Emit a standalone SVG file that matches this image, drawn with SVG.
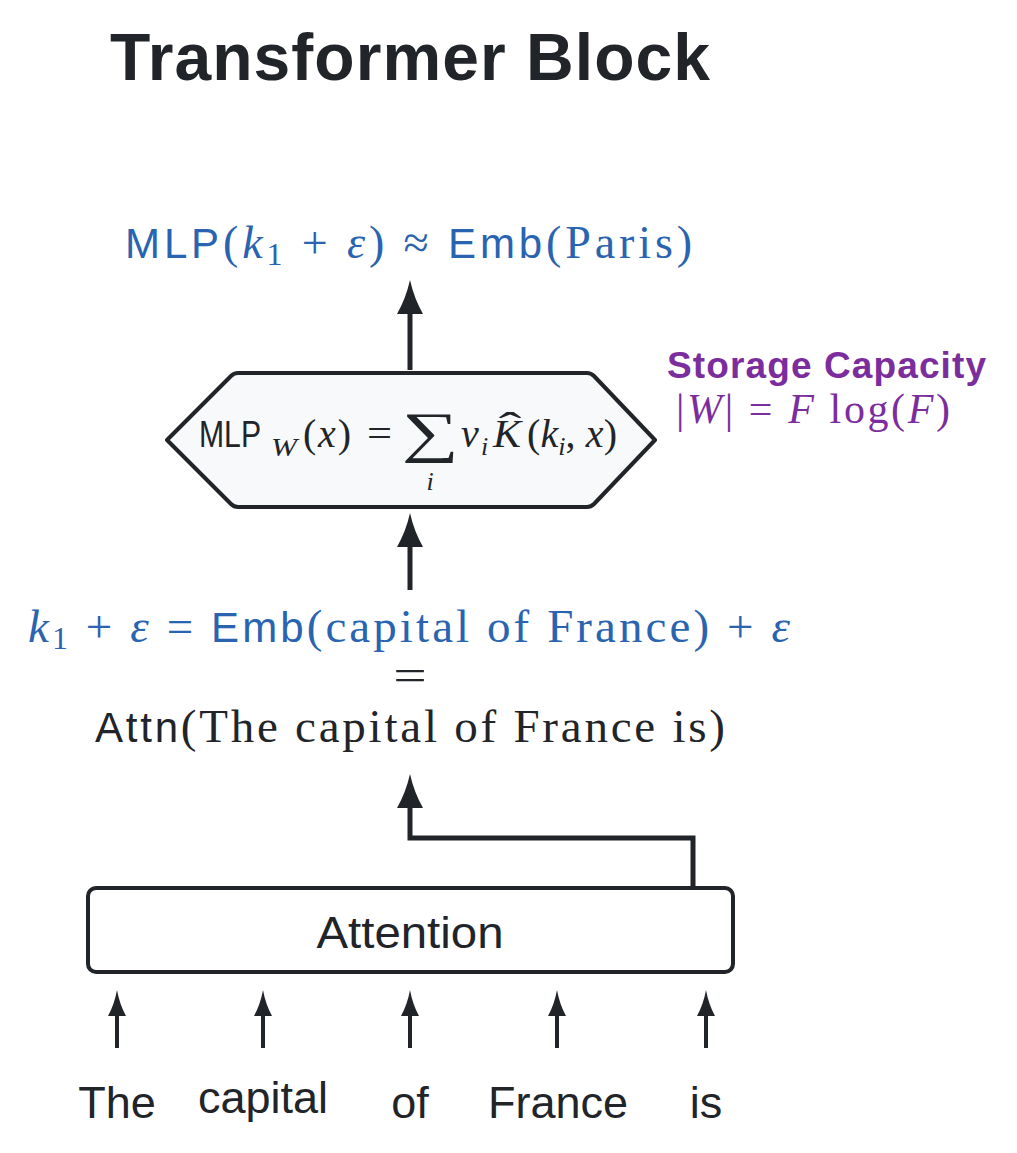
<svg xmlns="http://www.w3.org/2000/svg" width="1017" height="1153" viewBox="0 0 1017 1153">
<style>
.sans{font-family:"Liberation Sans",Arial,sans-serif}
.serif{font-family:"Liberation Serif","Times New Roman",serif}
.it{font-style:italic}
.blue{fill:#2a64b0}
.purple{fill:#7b2d9e}
.dark{fill:#212529}
.edge{fill:none;stroke:#212529;stroke-width:5}
.edge2{fill:none;stroke:#212529;stroke-width:4}
</style>
<defs>
<marker id="ah" markerUnits="userSpaceOnUse" viewBox="0 0 34 26" refX="0" refY="13" markerWidth="34" markerHeight="26" orient="auto">
<path d="M0,0 Q16,9 34,13 Q16,17 0,26 Z" fill="#212529"/>
</marker>
<marker id="ahs" markerUnits="userSpaceOnUse" viewBox="0 0 26 18" refX="0" refY="9" markerWidth="26" markerHeight="18" orient="auto">
<path d="M0,0 Q12,6.5 26,9 Q12,11.5 0,18 Z" fill="#212529"/>
</marker>
</defs>
<rect width="1017" height="1153" fill="#ffffff"/>

<g id="title">
<text x="110" y="80" class="sans dark" font-weight="bold" font-size="66" textLength="600" lengthAdjust="spacing">Transformer Block</text>
</g>

<g id="output">
<text x="125" y="258" class="serif blue" font-size="46" textLength="567" lengthAdjust="spacing"><tspan class="sans" font-size="42">MLP</tspan>(<tspan class="it">k</tspan><tspan font-size="32" dy="7">1</tspan><tspan dy="-7"> + </tspan><tspan class="it">ε</tspan>) ≈ <tspan class="sans" font-size="42">Emb</tspan>(Paris)</text>
</g>

<g id="mlp">
<path d="M167,440 L231,376 Q234,373 238,373 L587,373 Q591,373 594,376 L655,440 L594,504 Q591,507 587,507 L238,507 Q234,507 231,504 Z" fill="#f8f9fa" stroke="#212529" stroke-width="4" stroke-linejoin="round"/>
<text x="199" y="447" class="sans dark" font-size="37" textLength="62" lengthAdjust="spacingAndGlyphs">MLP</text>
<text x="271" y="456" class="serif dark it" font-size="26" textLength="26" lengthAdjust="spacingAndGlyphs">W</text>
<text x="303" y="447" class="serif dark" font-size="40" textLength="48" lengthAdjust="spacing">(<tspan class="it">x</tspan>)</text>
<text x="367" y="447" class="serif dark" font-size="40" textLength="25" lengthAdjust="spacingAndGlyphs">=</text>
<text x="430" y="451" class="serif dark" font-size="56" text-anchor="middle" transform="translate(430 0) scale(1.43 1) translate(-430 0)">∑</text>
<text x="430" y="490" class="serif dark it" font-size="26" text-anchor="middle">i</text>
<text x="461" y="447" class="serif dark it" font-size="40">v</text>
<text x="481" y="455" class="serif dark it" font-size="26">i</text>
<text x="493" y="447" class="serif dark it" font-size="40" textLength="28" lengthAdjust="spacingAndGlyphs">K</text>
<text x="510" y="440" class="serif dark" font-size="40" text-anchor="middle" transform="translate(510 0) scale(1.7 1) translate(-510 0)">ˆ</text>
<text x="527" y="447" class="serif dark" font-size="40" textLength="90" lengthAdjust="spacing">(<tspan class="it">k</tspan><tspan class="it" font-size="26" dy="8">i</tspan><tspan dy="-8">, </tspan><tspan class="it">x</tspan>)</text>
</g>

<g id="capacity">
<text x="667" y="378" class="sans purple" font-weight="bold" font-size="37" textLength="319" lengthAdjust="spacing">Storage Capacity</text>
<text x="676" y="423" class="serif purple" font-size="42" textLength="274" lengthAdjust="spacing">|<tspan class="it">W</tspan>| = <tspan class="it">F</tspan> log(<tspan class="it">F</tspan>)</text>
</g>

<g id="key">
<text x="28" y="642" class="serif blue" font-size="47" textLength="762" lengthAdjust="spacing"><tspan class="it">k</tspan><tspan font-size="32" dy="7">1</tspan><tspan dy="-7"> + </tspan><tspan class="it">ε</tspan> = <tspan class="sans" font-size="42">Emb</tspan>(capital of France) + <tspan class="it">ε</tspan></text>
<text x="410" y="690" class="serif dark" font-size="44" text-anchor="middle" transform="translate(410 0) scale(1.35 1) translate(-410 0)">=</text>
<text x="95" y="742" class="serif dark" font-size="47" textLength="630" lengthAdjust="spacing"><tspan class="sans" font-size="42">Attn</tspan>(The capital of France is)</text>
</g>

<g id="attention">
<rect x="88" y="888" width="645" height="84" rx="8" fill="#ffffff" stroke="#212529" stroke-width="4"/>
<text x="410" y="948" class="sans dark" font-size="45" text-anchor="middle" textLength="187" lengthAdjust="spacingAndGlyphs">Attention</text>
</g>

<g id="tokens" class="sans dark" font-size="45" text-anchor="middle">
<text x="117" y="1118">The</text>
<text x="263" y="1113">capital</text>
<text x="410" y="1118">of</text>
<text x="558" y="1118">France</text>
<text x="706" y="1118">is</text>
</g>

<g id="connectors">
<path class="edge" d="M410,370 V314" marker-end="url(#ah)"/>
<path class="edge" d="M410,590 V547" marker-end="url(#ah)"/>
<path class="edge" d="M693,888 V838 H410 V808" marker-end="url(#ah)"/>
<path class="edge2" d="M117,1048 V1016" marker-end="url(#ahs)"/>
<path class="edge2" d="M263,1048 V1016" marker-end="url(#ahs)"/>
<path class="edge2" d="M410,1048 V1016" marker-end="url(#ahs)"/>
<path class="edge2" d="M557,1048 V1016" marker-end="url(#ahs)"/>
<path class="edge2" d="M706,1048 V1016" marker-end="url(#ahs)"/>
</g>
</svg>
